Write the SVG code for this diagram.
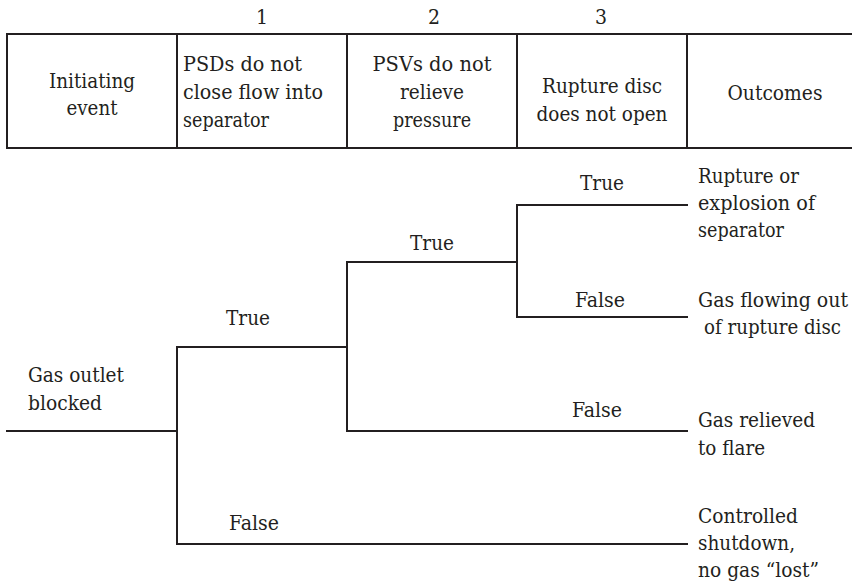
<svg xmlns="http://www.w3.org/2000/svg" width="852" height="585" viewBox="0 0 852 585">
  <style>
    text { font-family: "DejaVu Serif", "Liberation Serif", serif; font-stretch: condensed; font-size: 21px; fill: #231f20; }
    .c { text-anchor: middle; }
    .ln { stroke: #231f20; stroke-width: 2; fill: none; stroke-linecap: square; }
  </style>
  <rect width="852" height="585" fill="#ffffff"/>

  <!-- header table: column numbers, frame and column titles -->
  <g id="header">
    <path class="ln" d="M7,34 H852 M7,148 H852 M7,34 V148 M177,34 V148 M347,34 V148 M517,34 V148 M687,34 V148"/>
    <text class="c" x="262" y="24">1</text>
    <text class="c" x="434" y="24">2</text>
    <text class="c" x="601" y="24">3</text>
    <text class="c" x="92" y="88" textLength="86" lengthAdjust="spacingAndGlyphs">Initiating</text>
    <text class="c" x="92" y="115" textLength="51" lengthAdjust="spacingAndGlyphs">event</text>
    <text x="183" y="71" textLength="119" lengthAdjust="spacingAndGlyphs">PSDs do not</text>
    <text x="183" y="99" textLength="140" lengthAdjust="spacingAndGlyphs">close flow into</text>
    <text x="183" y="127" textLength="86" lengthAdjust="spacingAndGlyphs">separator</text>
    <text class="c" x="432" y="71" textLength="119" lengthAdjust="spacingAndGlyphs">PSVs do not</text>
    <text class="c" x="432" y="99" textLength="64" lengthAdjust="spacingAndGlyphs">relieve</text>
    <text class="c" x="432" y="127" textLength="78" lengthAdjust="spacingAndGlyphs">pressure</text>
    <text class="c" x="602" y="93" textLength="120" lengthAdjust="spacingAndGlyphs">Rupture disc</text>
    <text class="c" x="602" y="121" textLength="131" lengthAdjust="spacingAndGlyphs">does not open</text>
    <text class="c" x="775" y="100" textLength="95" lengthAdjust="spacingAndGlyphs">Outcomes</text>
  </g>

  <!-- event tree branches -->
  <g id="connectors">
    <path class="ln" d="M7,431 H177 M177,347 V544 M177,347 H347 M177,544 H687 M347,262 V431 M347,262 H517 M347,431 H687 M517,205 V317 M517,205 H687 M517,317 H687"/>
  </g>

  <g id="initiating-event">
    <text x="28" y="382" textLength="96" lengthAdjust="spacingAndGlyphs">Gas outlet</text>
    <text x="28" y="410" textLength="74" lengthAdjust="spacingAndGlyphs">blocked</text>
  </g>

  <g id="branch-labels">
    <text class="c" x="248" y="325" textLength="44" lengthAdjust="spacingAndGlyphs">True</text>
    <text class="c" x="254" y="530" textLength="50" lengthAdjust="spacingAndGlyphs">False</text>
    <text class="c" x="432" y="250" textLength="44" lengthAdjust="spacingAndGlyphs">True</text>
    <text class="c" x="597" y="417" textLength="50" lengthAdjust="spacingAndGlyphs">False</text>
    <text class="c" x="602" y="190" textLength="44" lengthAdjust="spacingAndGlyphs">True</text>
    <text class="c" x="600" y="307" textLength="50" lengthAdjust="spacingAndGlyphs">False</text>
  </g>

  <g id="outcome-rupture">
    <text x="698" y="183" textLength="101" lengthAdjust="spacingAndGlyphs">Rupture or</text>
    <text x="698" y="210" textLength="117" lengthAdjust="spacingAndGlyphs">explosion of</text>
    <text x="698" y="237" textLength="86" lengthAdjust="spacingAndGlyphs">separator</text>
  </g>
  <g id="outcome-disc">
    <text x="698" y="307" textLength="150" lengthAdjust="spacingAndGlyphs">Gas flowing out</text>
    <text x="704" y="334" textLength="137" lengthAdjust="spacingAndGlyphs">of rupture disc</text>
  </g>
  <g id="outcome-flare">
    <text x="698" y="427" textLength="117" lengthAdjust="spacingAndGlyphs">Gas relieved</text>
    <text x="698" y="455" textLength="67" lengthAdjust="spacingAndGlyphs">to flare</text>
  </g>
  <g id="outcome-shutdown">
    <text x="698" y="523" textLength="100" lengthAdjust="spacingAndGlyphs">Controlled</text>
    <text x="698" y="550" textLength="97" lengthAdjust="spacingAndGlyphs">shutdown,</text>
    <text x="698" y="577" textLength="121" lengthAdjust="spacingAndGlyphs">no gas “lost”</text>
  </g>
</svg>
